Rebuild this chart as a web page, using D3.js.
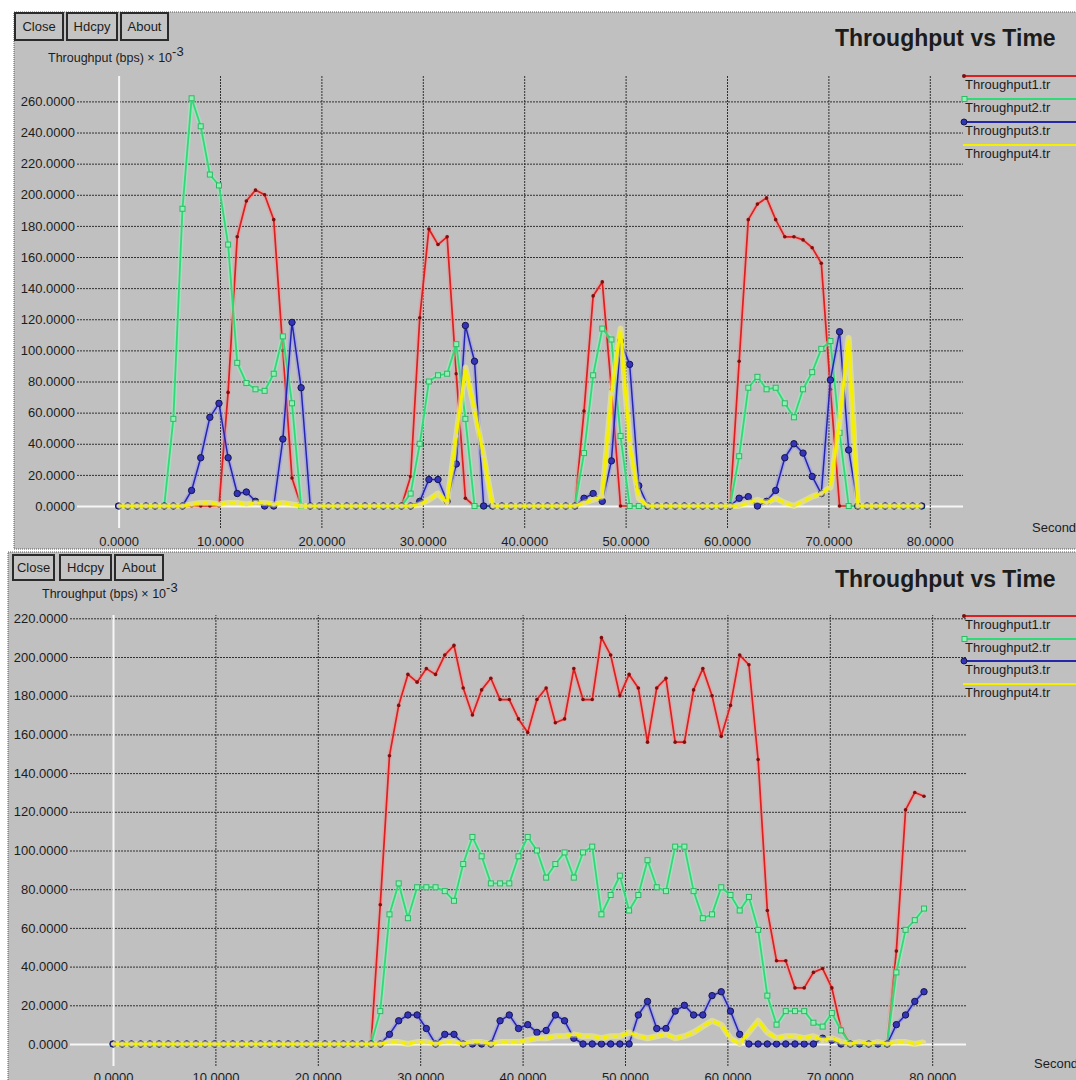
<!DOCTYPE html>
<html>
<head>
<meta charset="utf-8">
<script src="https://cdnjs.cloudflare.com/ajax/libs/d3/7.8.5/d3.min.js"></script>
<style>
  body { margin: 0; background: #fff; }
  svg text { font-family: "Liberation Sans", Arial, sans-serif; fill: #1c1c1c; }
</style>
</head>
<body>
<svg id="chart" width="1076" height="1080"></svg>
<script>
// sample times (s), shared by both runs
const times = [0,0.9,1.8,2.7,3.6,4.5,5.4,6.3,7.2,8.1,9,9.9,10.8,11.7,12.6,13.5,14.4,15.3,16.2,17.1,
  18,18.9,19.8,20.7,21.6,22.5,23.4,24.3,25.2,26.1,27,27.9,28.8,29.7,30.6,31.5,32.4,33.3,34.2,35.1,
  36,36.9,37.8,38.7,39.6,40.5,41.4,42.3,43.2,44.1,45,45.9,46.8,47.7,48.6,49.5,50.4,51.3,52.2,53.1,
  54,54.9,55.8,56.7,57.6,58.5,59.4,60.3,61.2,62.1,63,63.9,64.8,65.7,66.6,67.5,68.4,69.3,70.2,71.1,
  72,72.9,73.8,74.7,75.6,76.5,77.4,78.3,79.2];

const seriesNames = ["Throughput1.tr", "Throughput2.tr", "Throughput3.tr", "Throughput4.tr"];
const xTicks = [0, 10, 20, 30, 40, 50, 60, 70, 80];
const yTicksTop = [0, 20, 40, 60, 80, 100, 120, 140, 160, 180, 200, 220, 240, 260];
const yTicksBottom = [0, 20, 40, 60, 80, 100, 120, 140, 160, 180, 200, 220];

// first run (top window)
const topRed = [0,0,0,0,0,0,0,0,0,0, 0,0,73,173,196,203,200,184,100,18,
  0,0,0,0,0,0,0,0,0,0, 0,0,19,121,178,168,173,85,5,0,
  0,0,0,0,0,0,0,0,0,0, 0,61,135,144,75,0,0,0,0,0,
  0,0,0,0,0,0,0,0,93,184, 194,198,184,173,173,171,166,156,75,0,
  0,0,0,0,0,0,0,0,0];
const topGreen = [0,0,0,0,0,0,56,191,262,244, 213,206,168,92,79,75,74,85,109,66,
  0,0,0,0,0,0,0,0,0,0, 0,0,8,40,80,84,85,104,56,0,
  0,0,0,0,0,0,0,0,0,0, 0,34,84,114,107,45,0,0,0,0,
  0,0,0,0,0,0,0,0,32,76, 83,75,76,66,57,75,86,101,106,47,
  0,0,0,0,0,0,0,0,0];
const topBlue = [0,0,0,0,0,0,0,0,10,31, 57,66,31,8,9,3,0,0,43,118,
  76,0,0,0,0,0,0,0,0,0, 0,0,0,3,17,17,3,27,116,93,
  0,0,0,0,0,0,0,0,0,0, 0,5,8,3,29,106,91,13,0,0,
  0,0,0,0,0,0,0,0,5,6, 0,3,10,31,40,34,19,8,81,112,
  36,0,0,0,0,0,0,0,0];
const topYellow = [0,0,0,0,0,0,0,0,1,2, 2,1,2,2,1,2,2,1,2,1,
  0,0,0,0,0,0,0,0,0,0, 0,0,0,1,4,8,2,45,89,62,
  32,0,0,0,0,0,0,0,0,0, 0,2,4,6,72,114,40,5,0,0,
  0,0,0,0,0,0,0,0,0,2, 4,2,5,2,0,3,6,8,12,55,
  108,0,0,0,0,0,0,0,0];

// second run (bottom window)
const botRed = [0,0,0,0,0,0,0,0,0,0, 0,0,0,0,0,0,0,0,0,0,
  0,0,0,0,0,0,0,0,0,72, 149,175,191,187,194,191,201,206,184,170,
  183,189,178,178,168,161,178,184,166,168, 194,178,178,210,201,180,191,184,156,184,
  189,156,156,183,194,180,159,175,201,196, 147,69,43,43,29,29,37,39,29,8,
  0,0,0,0,0,48,121,130,128];
const botGreen = [0,0,0,0,0,0,0,0,0,0, 0,0,0,0,0,0,0,0,0,0,
  0,0,0,0,0,0,0,0,0,17, 67,83,65,81,81,81,79,74,93,107,
  97,83,83,83,97,107,100,86,93,99, 86,99,102,67,77,87,69,77,95,81,
  79,102,102,79,65,67,81,77,69,76, 59,25,10,17,17,17,11,9,16,7,
  0,0,0,0,0,37,59,64,70];
const botBlue = [0,0,0,0,0,0,0,0,0,0, 0,0,0,0,0,0,0,0,0,0,
  0,0,0,0,0,0,0,0,0,0, 5,12,15,15,8,0,5,5,0,0,
  0,0,12,15,8,10,6,7,15,12, 3,0,0,0,0,0,0,15,22,8,
  8,17,20,15,15,25,27,17,5,0, 0,0,0,0,0,0,0,3,2,0,
  0,0,0,0,0,10,15,22,27];
const botYellow = [0,0,0,0,0,0,0,0,0,0, 0,0,0,0,0,0,0,0,0,0,
  0,0,0,0,0,0,0,0,0,0, 1,1,0,1,1,0,1,1,0,1,
  1,0,1,1,1,2,3,3,4,4, 5,4,4,3,4,4,6,4,3,4,
  5,3,4,6,9,12,10,3,0,6, 12,6,3,4,4,3,4,2,3,1,
  0,1,0,1,0,1,1,0,1];

const lineCol = ["#da2020", "#30da78", "#2626aa", "#f4f000"];
const haloCol = ["#ff8a8a", "#8cffb8", "#8c8cff", "#ffff70"];
const lineW = [1.7, 1.8, 1.5, 3];

const svg = d3.select("#chart");

function drawPanel(P, sets, yTicks) {
  const g = svg.append("g");
  g.append("rect").attr("x", P.left).attr("y", P.top).attr("width", 1076 - P.left + 2).attr("height", P.bottom - P.top)
    .attr("fill", "#c0c0c0").attr("stroke", "#5a5a5a").attr("stroke-dasharray", "1,1");

  // buttons
  const btns = [["Close", P.btnX[0], P.btnX[1]], ["Hdcpy", P.btnX[2], P.btnX[3]], ["About", P.btnX[4], P.btnX[5]]];
  btns.forEach(b => {
    g.append("rect").attr("x", b[1]).attr("y", P.btnY).attr("width", b[2] - b[1]).attr("height", P.btnH)
      .attr("fill", "#c4c4c4").attr("stroke", "#2a2a2a").attr("stroke-width", 2);
    g.append("text").attr("x", (b[1] + b[2]) / 2).attr("y", P.btnY + P.btnH / 2 + 4.5)
      .attr("text-anchor", "middle").attr("font-size", 13).text(b[0]);
  });

  const yl = g.append("text").attr("x", P.ylabX).attr("y", P.ylabY).attr("font-size", 12.5);
  yl.append("tspan").text("Throughput (bps) \u00d7 10");
  yl.append("tspan").attr("dy", -6).attr("font-size", 13).text("-3");

  g.append("text").attr("x", 835).attr("y", P.titleY).attr("font-size", 23).attr("font-weight", "bold")
    .attr("fill", "#111").text("Throughput vs Time");

  const x = d3.scaleLinear().domain([0, 80]).range(P.xRange);
  const y = d3.scaleLinear().domain([0, P.yMax]).range(P.yRange);

  // horizontal grid + y labels
  const ya = g.append("g").attr("transform", `translate(${P.gridL},0)`)
    .call(d3.axisLeft(y).tickValues(yTicks).tickFormat(d3.format(".4f"))
      .tickSize(-(P.gridR - P.gridL)).tickPadding(2));
  ya.select(".domain").remove();
  ya.selectAll("text").attr("font-size", 13).attr("fill", "#1c1c1c").attr("font-family", "Liberation Sans, Arial, sans-serif");
  ya.selectAll(".tick line").attr("stroke", d => d === 0 ? "#f6f6f6" : "#303030")
    .attr("stroke-width", d => d === 0 ? 2 : 1).attr("stroke-dasharray", d => d === 0 ? null : "2,1");

  // vertical grid + x labels
  const xa = g.append("g").attr("transform", `translate(0,${P.tickB})`)
    .call(d3.axisBottom(x).tickValues(xTicks).tickFormat(d3.format(".4f"))
      .tickSize(-(P.tickB - P.plotT)).tickPadding(P.tickPad));
  xa.select(".domain").remove();
  xa.selectAll("text").attr("font-size", 13).attr("fill", "#1c1c1c").attr("font-family", "Liberation Sans, Arial, sans-serif");
  xa.selectAll(".tick line").attr("stroke", d => d === 0 ? "#f6f6f6" : "#303030")
    .attr("stroke-width", d => d === 0 ? 2 : 1).attr("stroke-dasharray", d => d === 0 ? null : "2,1");

  g.append("text").attr("x", P.secX).attr("y", P.secY).attr("font-size", 13).text("Seconds");

  const line = d3.line().x((d, i) => x(times[i])).y(d => y(d));

  sets.forEach((vals, s) => {
    g.append("path").datum(vals).attr("d", line).attr("fill", "none")
      .attr("stroke", haloCol[s]).attr("stroke-width", lineW[s] + 3).attr("stroke-opacity", 0.45)
      .attr("stroke-linejoin", "round");
    g.append("path").datum(vals).attr("d", line).attr("fill", "none")
      .attr("stroke", lineCol[s]).attr("stroke-width", lineW[s]).attr("stroke-linejoin", "round");
    const pts = g.append("g");
    if (s === 0) {
      pts.selectAll("circle").data(vals).join("circle")
        .attr("cx", (d, i) => x(times[i])).attr("cy", d => y(d)).attr("r", 1.8).attr("fill", "#7a1010");
    } else if (s === 1) {
      pts.selectAll("rect").data(vals).join("rect")
        .attr("x", (d, i) => x(times[i]) - 2.5).attr("y", d => y(d) - 2.5).attr("width", 5).attr("height", 5)
        .attr("fill", "#90f0b4").attr("stroke", "#2fb866").attr("stroke-width", 1);
    } else if (s === 2) {
      pts.selectAll("circle").data(vals).join("circle")
        .attr("cx", (d, i) => x(times[i])).attr("cy", d => y(d)).attr("r", 3.2)
        .attr("fill", "#3434b8").attr("stroke", "#16164e").attr("stroke-width", 1);
    } else {
      pts.selectAll("circle").data(vals).join("circle")
        .attr("cx", (d, i) => x(times[i])).attr("cy", d => y(d)).attr("r", 2.1).attr("fill", "#e4da90");
    }
  });

  // legend
  seriesNames.forEach((name, s) => {
    const ly = P.legY[s];
    g.append("line").attr("x1", 963).attr("x2", 1076).attr("y1", ly).attr("y2", ly)
      .attr("stroke", lineCol[s]).attr("stroke-width", 2);
    if (s === 0) g.append("circle").attr("cx", 964).attr("cy", ly).attr("r", 2).attr("fill", "#7a1010");
    if (s === 1) g.append("rect").attr("x", 962).attr("y", ly - 2.5).attr("width", 5).attr("height", 5)
      .attr("fill", "#90f0b4").attr("stroke", "#2fb866");
    if (s === 2) g.append("circle").attr("cx", 964).attr("cy", ly).attr("r", 3).attr("fill", "#3434b8").attr("stroke", "#16164e");
    g.append("text").attr("x", 965).attr("y", ly + 13).attr("font-size", 13).attr("fill", "#2a2a2a").text(name);
  });
}

drawPanel({
  left: 14, top: 12, bottom: 549,
  btnX: [15, 63, 67, 117, 121, 168], btnY: 13, btnH: 27,
  ylabX: 48, ylabY: 62, titleY: 46,
  xRange: [118.6, 929.8], yRange: [506, 101.4], yMax: 260,
  gridL: 77, gridR: 963, plotT: 76, tickB: 528, tickPad: 9,
  secX: 1032, secY: 532, legY: [76, 99, 122, 145]
}, [topRed, topGreen, topBlue, topYellow], yTicksTop);

drawPanel({
  left: 8, top: 552, bottom: 1082,
  btnX: [13, 54, 60, 111, 115, 163], btnY: 555, btnH: 25,
  ylabX: 42, ylabY: 598, titleY: 587,
  xRange: [113, 932.2], yRange: [1044, 618.3], yMax: 220,
  gridL: 70, gridR: 966, plotT: 615, tickB: 1066, tickPad: 7,
  secX: 1034, secY: 1068, legY: [616, 639, 661, 684]
}, [botRed, botGreen, botBlue, botYellow], yTicksBottom);
</script>
</body>
</html>
